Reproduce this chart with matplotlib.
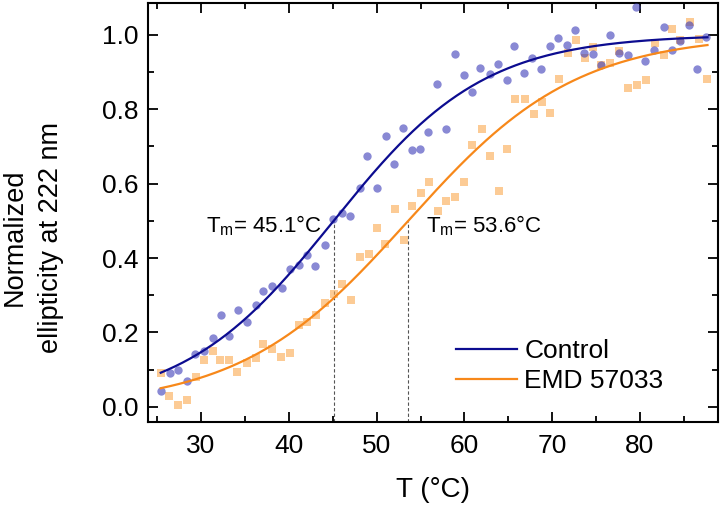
import numpy as np
import matplotlib
matplotlib.use("Agg")
import matplotlib.pyplot as plt
from matplotlib.ticker import MultipleLocator

plt.rcParams['font.family'] = ['Liberation Sans', 'DejaVu Sans']
plt.rcParams['mathtext.fontset'] = 'custom'
plt.rcParams['mathtext.rm'] = 'Liberation Sans'
plt.rcParams['mathtext.it'] = 'Liberation Sans:italic'

# ---- data ----
control_T = [25.4, 26.4, 27.4, 28.4, 29.3, 30.3, 31.3, 32.3, 33.2, 34.2, 35.2, 36.2, 37.1, 38.1,
             39.2, 40.1, 41.1, 42.1, 43.0, 44.1, 45.0, 46.1, 47.0, 48.1, 48.9, 50.0, 51.1, 52.0,
             53.0, 54.0, 54.9, 55.9, 56.9, 57.9, 58.9, 59.9, 60.9, 61.8, 62.9, 63.8, 64.8, 65.7,
             66.8, 67.7, 68.7, 69.7, 70.7, 71.7, 72.6, 73.6, 74.7, 75.6, 76.6, 77.6, 78.6, 79.6,
             80.6, 81.6, 82.7, 83.6, 84.6, 85.6, 86.5, 87.5]
control_y = [0.043, 0.092, 0.099, 0.069, 0.141, 0.150, 0.185, 0.246, 0.190, 0.261, 0.228, 0.274,
             0.311, 0.324, 0.320, 0.370, 0.382, 0.407, 0.378, 0.434, 0.504, 0.522, 0.514, 0.589,
             0.675, 0.588, 0.727, 0.652, 0.749, 0.689, 0.692, 0.738, 0.867, 0.747, 0.948, 0.892,
             0.845, 0.910, 0.894, 0.922, 0.878, 0.970, 0.896, 0.937, 0.907, 0.970, 0.992, 0.972,
             1.013, 0.951, 0.948, 0.918, 0.999, 0.950, 0.946, 1.074, 0.929, 0.960, 1.021, 0.958,
             0.984, 1.025, 0.908, 0.993]

emd_T = [25.4, 26.3, 27.4, 28.4, 29.4, 30.3, 31.3, 32.2, 33.2, 34.1, 35.2, 36.2, 37.1, 38.1,
         39.1, 40.1, 41.1, 42.1, 43.1, 44.1, 45.1, 46.1, 47.1, 48.1, 49.1, 50.0, 51.0, 52.1,
         53.1, 54.0, 55.0, 56.0, 57.0, 57.9, 58.9, 59.9, 60.9, 62.0, 62.9, 63.9, 64.9, 65.8,
         66.9, 67.9, 68.8, 69.8, 70.8, 71.8, 72.7, 73.7, 74.7, 75.6, 76.6, 77.6, 78.6, 79.7,
         80.7, 81.7, 82.7, 83.7, 84.6, 85.7, 86.7, 87.7]
emd_y = [0.091, 0.029, 0.005, 0.018, 0.081, 0.125, 0.150, 0.125, 0.125, 0.094, 0.119, 0.131,
         0.170, 0.155, 0.134, 0.145, 0.220, 0.227, 0.247, 0.278, 0.304, 0.329, 0.286, 0.402,
         0.411, 0.480, 0.439, 0.532, 0.449, 0.541, 0.576, 0.605, 0.527, 0.552, 0.563, 0.605,
         0.703, 0.746, 0.673, 0.579, 0.693, 0.827, 0.827, 0.788, 0.818, 0.789, 0.882, 0.950,
         0.986, 0.938, 0.966, 0.918, 0.923, 0.955, 0.856, 0.864, 0.878, 0.979, 0.946, 1.015,
         0.985, 1.035, 0.988, 0.880]

# Boltzmann fit parameters (A1, A2, Tm, dT) estimated from the drawn fit curves
control_fit = (0.0, 1.0, 45.1, 8.6)
emd_fit = (0.0, 1.0, 53.6, 9.6)
fit_range = (25.4, 87.7)

series_names = ['Control', 'EMD 57033']
tm_labels = [r'T$_{\mathrm{m}}$= 45.1°C', r'T$_{\mathrm{m}}$= 53.6°C']
x_ticks = [30, 40, 50, 60, 70, 80]
y_ticks = [0.0, 0.2, 0.4, 0.6, 0.8, 1.0]


def boltzmann(x, a1, a2, x0, dx):
    return a2 + (a1 - a2) / (1.0 + np.exp((x - x0) / dx))


fig = plt.figure(figsize=(7.22, 5.07), dpi=100)
ax = fig.add_axes([0.205, 0.168, 0.7895, 0.826])

blue_line = '#0c0c90'
orange_line = '#f7881a'

ax.scatter(emd_T, emd_y, marker='s', s=26, color='#fba94f', alpha=0.6, linewidths=0, zorder=2)
ax.scatter(control_T, control_y, marker='o', s=36, color='#3a3ab8', alpha=0.6, linewidths=0, zorder=3)

xx = np.linspace(fit_range[0], fit_range[1], 300)
ax.plot(xx, boltzmann(xx, *control_fit), color=blue_line, lw=1.6, zorder=4, label=series_names[0])
ax.plot(xx, boltzmann(xx, *emd_fit), color=orange_line, lw=1.6, zorder=4, label=series_names[1])

ymin, ymax = -0.04, 1.085
for fit in (control_fit, emd_fit):
    tm = fit[2]
    ax.plot([tm, tm], [ymin, boltzmann(tm, *fit)], color='#555555', lw=0.8,
            ls=(0, (3, 2)), zorder=1)

ax.text(30.6, 0.47, tm_labels[0], fontsize=16, ha='left', va='baseline')
ax.text(55.6, 0.47, tm_labels[1], fontsize=16, ha='left', va='baseline')

ax.set_xlim(23.95, 88.9)
ax.set_ylim(ymin, ymax)
ax.set_xticks(x_ticks)
ax.set_yticks(y_ticks)
ax.set_yticklabels([f'{v:.1f}' for v in y_ticks])
ax.xaxis.set_minor_locator(MultipleLocator(5))
ax.yaxis.set_minor_locator(MultipleLocator(0.1))
ax.tick_params(which='both', direction='in', top=True, right=True, width=1.3,
               labelsize=19, colors='black')
ax.tick_params(which='major', length=7)
ax.tick_params(which='minor', length=4)
ax.tick_params(axis='x', which='major', pad=8.5)
ax.tick_params(axis='y', which='major', pad=7)
for sp in ax.spines.values():
    sp.set_linewidth(1.5)

ax.set_xlabel('T (°C)', fontsize=20, labelpad=14)
ax.set_ylabel('Normalized\nellipticity at 222 nm', fontsize=19.5, linespacing=1.5)
ax.yaxis.set_label_coords(-0.148, 0.44)

ax.legend(loc='center left', bbox_to_anchor=(0.54, 0.133), frameon=False, fontsize=19,
          borderpad=0, borderaxespad=0, handlelength=2.3, handletextpad=0.3,
          labelspacing=0.2)

fig.savefig('out.png', dpi=100)
